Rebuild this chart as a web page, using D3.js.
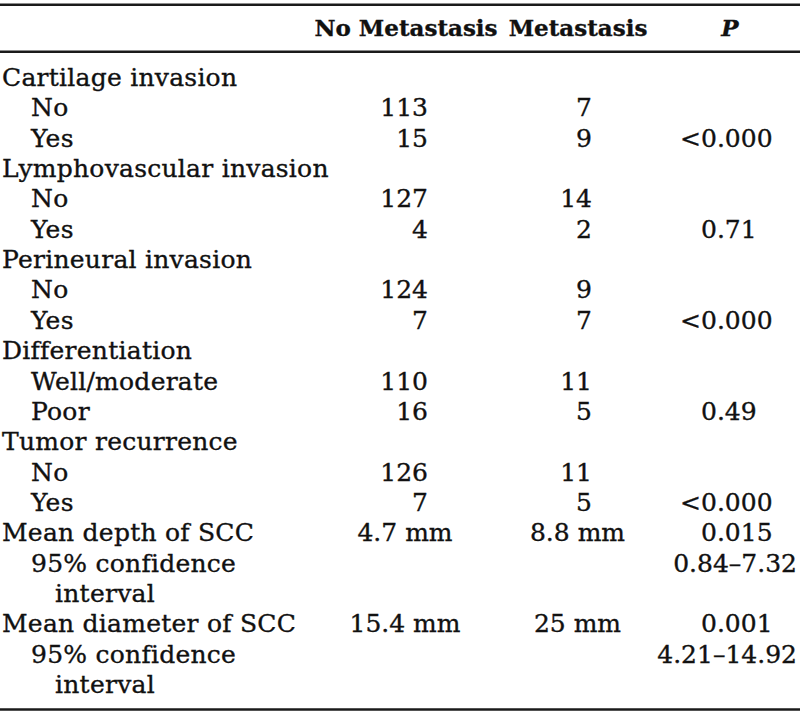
<!DOCTYPE html>
<html>
<head>
<meta charset="utf-8">
<script src="https://cdn.jsdelivr.net/npm/d3@7/dist/d3.min.js"></script>
<style>
  html, body { margin: 0; padding: 0; background: #fff; }
  svg { display: block; }
  text { font-family: "DejaVu Serif", "Liberation Serif", serif; fill: #111; stroke: #111; stroke-width: 0.35px; }
</style>
</head>
<body>
<svg id="chart" width="800" height="716"></svg>
<script>
// ---- Data ----
const columnHeaders = ["No Metastasis", "Metastasis", "P"];

const rowLabels = [
  "Cartilage invasion", "No", "Yes",
  "Lymphovascular invasion", "No", "Yes",
  "Perineural invasion", "No", "Yes",
  "Differentiation", "Well/moderate", "Poor",
  "Tumor recurrence", "No", "Yes",
  "Mean depth of SCC", "95% confidence", "interval",
  "Mean diameter of SCC", "95% confidence", "interval"
];
// hierarchy level of each row label (0 = variable, 1 = category, 2 = wrapped continuation)
const rowLevels = [0,1,1, 0,1,1, 0,1,1, 0,1,1, 0,1,1, 0,1,2, 0,1,2];

const noMetastasis = [
  "", "113", "15",
  "", "127", "4",
  "", "124", "7",
  "", "110", "16",
  "", "126", "7",
  "4.7 mm", "", "",
  "15.4 mm", "", ""
];
const metastasis = [
  "", "7", "9",
  "", "14", "2",
  "", "9", "7",
  "", "11", "5",
  "", "11", "5",
  "8.8 mm", "", "",
  "25 mm", "", ""
];
const pValues = [
  "", "", "<0.000",
  "", "", "0.71",
  "", "", "<0.000",
  "", "", "0.49",
  "", "", "<0.000",
  "0.015", "0.84–7.32", "",
  "0.001", "4.21–14.92", ""
];

// ---- Layout ----
const W = 800, H = 716;
const fontSize = 25;
const svg = d3.select("#chart");

const y = d3.scalePoint().domain(d3.range(rowLabels.length)).range([86, 693]);
const indent = d3.scaleOrdinal().domain([0, 1, 2]).range([2, 31, 55]);

const col = {
  noMet: { right: 428, center: 405 },
  met:   { right: 592, center: 577.5 },
  p:     { start: 701, right: 797, center: 730 }
};

// rules
const rules = [ { y: 4.7 }, { y: 51.7 }, { y: 709.5 } ];
svg.selectAll("line.rule").data(rules).join("line")
  .attr("class", "rule")
  .attr("x1", 0).attr("x2", W)
  .attr("y1", d => d.y).attr("y2", d => d.y)
  .attr("stroke", "#1a1a1a").attr("stroke-width", 2.6);

// header
const headerY = 36;
const headerX = [406, 578, col.p.center];
svg.selectAll("text.header").data(columnHeaders).join("text")
  .attr("class", "header")
  .attr("x", (d, i) => headerX[i])
  .attr("y", headerY)
  .attr("text-anchor", "middle")
  .attr("font-size", 23)
  .attr("font-weight", "bold")
  .attr("font-style", (d, i) => i === 2 ? "italic" : "normal")
  .text(d => d);

// row labels
svg.selectAll("text.label").data(rowLabels).join("text")
  .attr("class", "label")
  .attr("x", (d, i) => indent(rowLevels[i]))
  .attr("y", (d, i) => y(i))
  .attr("font-size", fontSize)
  .attr("letter-spacing", 0.25)
  .text(d => d);

const rowsIdx = d3.range(rowLabels.length);

function valueColumn(cls, values, c) {
  svg.selectAll("text." + cls).data(rowsIdx.filter(i => values[i] !== "")).join("text")
    .attr("class", cls)
    .attr("y", i => y(i))
    .attr("font-size", fontSize)
    .text(i => values[i])
    .each(function(i) {
      const d = values[i];
      const t = d3.select(this);
      if (/mm/.test(d)) t.attr("x", c.center).attr("text-anchor", "middle");
      else t.attr("x", c.right).attr("text-anchor", "end");
    });
}
valueColumn("nomet", noMetastasis, col.noMet);
valueColumn("met", metastasis, col.met);

svg.selectAll("text.pval").data(rowsIdx.filter(i => pValues[i] !== "")).join("text")
  .attr("class", "pval")
  .attr("y", i => y(i))
  .attr("font-size", fontSize)
  .text(i => pValues[i])
  .each(function(i) {
    const d = pValues[i];
    const t = d3.select(this);
    if (d.indexOf("–") >= 0) {
      t.attr("x", col.p.right).attr("text-anchor", "end");
    } else if (d[0] === "<") {
      t.attr("x", col.p.start).attr("text-anchor", "start");
      const w = this.getSubStringLength(0, 1);
      t.attr("x", col.p.start - w);
    } else {
      t.attr("x", col.p.start).attr("text-anchor", "start");
    }
  });
</script>
</body>
</html>
